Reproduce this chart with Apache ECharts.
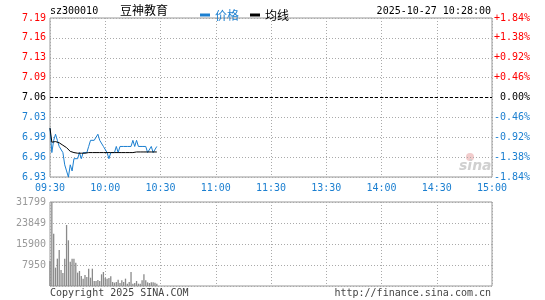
<!DOCTYPE html>
<html>
<head>
<meta charset="utf-8">
<script src="https://cdn.jsdelivr.net/npm/echarts@6/dist/echarts.min.js"></script>
<style>html,body{margin:0;padding:0;background:#fff;}#c{width:545px;height:300px;}</style>
</head>
<body>
<div id="c"></div>
<script>
const prevClose = 7.06;
const xTickLabels = ['09:30','10:00','10:30','11:00','11:30','13:30','14:00','14:30','15:00'];
const priceLabels = ['6.93','6.96','6.99','7.03','7.06','7.09','7.13','7.16','7.19'];
const pctLabels = ['-1.84%','-1.38%','-0.92%','-0.46%','0.00%','+0.46%','+0.92%','+1.38%','+1.84%'];
const volLabels = ['','7950','15900','23849','31799'];
const price = [7.01,6.97,6.99,7.00,6.99,6.98,6.98,6.97,6.95,6.94,
               6.93,6.95,6.94,6.96,6.96,6.96,6.97,6.96,6.97,6.97,
               6.97,6.98,6.99,6.99,6.99,6.99,7.00,6.99,6.99,6.98,
               6.98,6.97,6.96,6.97,6.97,6.97,6.98,6.97,6.98,6.98,
               6.98,6.98,6.98,6.98,6.98,6.99,6.98,6.99,6.98,6.98,
               6.98,6.98,6.98,6.97,6.97,6.98,6.97,6.97,6.98];
const avgPrice = [7.010,6.987,6.988,6.988,6.987,6.986,6.984,6.982,6.980,6.978,
                  6.975,6.972,6.971,6.970,6.970,6.969,6.969,6.969,6.969,6.969,
                  6.969,6.970,6.970,6.970,6.970,6.970,6.970,6.970,6.970,6.970,
                  6.970,6.970,6.970,6.970,6.970,6.970,6.970,6.970,6.970,6.970,
                  6.970,6.970,6.970,6.970,6.970,6.970,6.970,6.971,6.971,6.971,
                  6.971,6.971,6.971,6.971,6.971,6.971,6.971,6.971,6.971];
const volume = [9470,31799,19800,6940,10350,13630,6060,4920,10350,23090,
                17300,9210,10350,10350,8830,5050,5680,3790,2780,4160,
                3410,6560,3150,6560,1890,1890,2270,1890,4420,5300,
                3150,2780,3030,3660,1510,1260,1510,2400,1140,2150,
                1510,2780,880,1510,5300,880,1140,1890,880,880,
                2150,4420,2150,1390,1140,1390,1390,1260,880];

const BLUE = '#1b7fd0';
const MONO = 'DejaVu Sans Mono';
const CJK = 'Noto Sans CJK SC';
const pct = p => (p - prevClose) / prevClose * 100;
const priceData = price.map((p, i) => [i, pct(p)]);
const avgData = avgPrice.map((p, i) => [i, pct(p)]);
const volData = volume.map((v, i) => [i, v]);

const gridLine = {show: true, lineStyle: {color: '#aaa', type: [1, 2], width: 1}};
const richCols = {
  u: {color: '#f00', fontFamily: MONO, fontSize: 10},
  d: {color: BLUE, fontFamily: MONO, fontSize: 10},
  z: {color: '#000', fontFamily: MONO, fontSize: 10}
};
function lvlIdx(v) { return Math.round((v + 1.84) / 0.46); }
function tag(i) { return i > 4 ? 'u' : (i < 4 ? 'd' : 'z'); }

const chart = echarts.init(document.getElementById('c'), null, {renderer: 'canvas'});
chart.setOption({
  animation: false,
  backgroundColor: '#fff',
  grid: [
    {left: 50, top: 18, width: 442, height: 159, show: true, borderColor: '#999', borderWidth: 1},
    {left: 50, top: 202, width: 442, height: 84, show: true, borderColor: '#999', borderWidth: 1}
  ],
  legend: {
    left: 195, top: 4, itemWidth: 10, itemHeight: 3, itemGap: 11, icon: 'rect',
    textStyle: {fontFamily: CJK, fontSize: 12},
    data: [
      {name: '价格', itemStyle: {color: BLUE}, textStyle: {color: BLUE}},
      {name: '均线', itemStyle: {color: '#000'}, textStyle: {color: '#000'}}
    ]
  },
  xAxis: [
    {gridIndex: 0, type: 'value', min: 0, max: 240, interval: 30,
     axisLine: {show: false}, axisTick: {show: false}, splitLine: gridLine,
     axisLabel: {show: true, margin: 6, color: BLUE, fontFamily: MONO, fontSize: 10,
       showMinLabel: true, showMaxLabel: true,
       formatter: v => xTickLabels[Math.round(v / 30)]}},
    {gridIndex: 1, type: 'value', min: 0, max: 240, interval: 30,
     axisLine: {show: false}, axisTick: {show: false}, splitLine: gridLine,
     axisLabel: {show: false}}
  ],
  yAxis: [
    {gridIndex: 0, type: 'value', min: -1.84, max: 1.84, interval: 0.46, position: 'left',
     axisLine: {show: false}, axisTick: {show: false}, splitLine: gridLine,
     axisLabel: {margin: 4, showMinLabel: true, showMaxLabel: true,
       formatter: v => { const i = lvlIdx(v); return '{' + tag(i) + '|' + priceLabels[i] + '}'; },
       rich: richCols}},
    {gridIndex: 0, type: 'value', min: -1.84, max: 1.84, interval: 0.46, position: 'right',
     axisLine: {show: false}, axisTick: {show: false}, splitLine: {show: false},
     axisLabel: {margin: 38, align: 'right', showMinLabel: true, showMaxLabel: true,
       formatter: v => { const i = lvlIdx(v); return '{' + tag(i) + '|' + pctLabels[i] + '}'; },
       rich: richCols}},
    {gridIndex: 1, type: 'value', min: 0, max: 31799, interval: 7949.75, position: 'left',
     axisLine: {show: false}, axisTick: {show: false}, splitLine: gridLine,
     axisLabel: {margin: 4, color: '#999', fontFamily: MONO, fontSize: 10,
       showMinLabel: true, showMaxLabel: true,
       formatter: v => volLabels[Math.round(v / 7949.75)]}}
  ],
  series: [
    {name: '价格', type: 'line', xAxisIndex: 0, yAxisIndex: 0, data: priceData,
     showSymbol: false, symbol: 'none', lineStyle: {color: BLUE, width: 1}, itemStyle: {color: BLUE},
     markLine: {silent: true, symbol: 'none', label: {show: false},
       lineStyle: {color: '#000', type: [3, 2], width: 1}, data: [{yAxis: 0}]},
     z: 3},
    {name: '均线', type: 'line', xAxisIndex: 0, yAxisIndex: 0, data: avgData,
     showSymbol: false, symbol: 'none', lineStyle: {color: '#000', width: 1}, itemStyle: {color: '#000'}, z: 4},
    {name: '成交量', type: 'bar', xAxisIndex: 1, yAxisIndex: 2, data: volData,
     barWidth: 1.3, barMinHeight: 0, itemStyle: {color: '#8a8a8a', borderWidth: 0}}
  ],
  graphic: [
    {type: 'text', left: 50, top: 6, style: {text: 'sz300010', fill: '#000', font: '10px "DejaVu Sans Mono"'}},
    {type: 'text', left: 120, top: 4, style: {text: '豆神教育', fill: '#000', font: '12px "Noto Sans CJK SC"'}},
    {type: 'text', right: 54, top: 6, style: {text: '2025-10-27 10:28:00', fill: '#000', font: '10px "DejaVu Sans Mono"'}},
    {type: 'text', left: 50, top: 288, style: {text: 'Copyright 2025 SINA.COM', fill: '#444', font: '10px "DejaVu Sans Mono"'}},
    {type: 'text', right: 54, top: 288, style: {text: 'http://finance.sina.com.cn', fill: '#444', font: '10px "DejaVu Sans Mono"'}},
    {type: 'circle', shape: {cx: 470, cy: 157, r: 4}, style: {fill: '#f2cccc'}, silent: true},
    {type: 'text', left: 459, top: 159, style: {text: 'sina', fill: '#d0d0d0', font: 'italic bold 14px "DejaVu Sans"'}, silent: true}
  ]
});
</script>
</body>
</html>
